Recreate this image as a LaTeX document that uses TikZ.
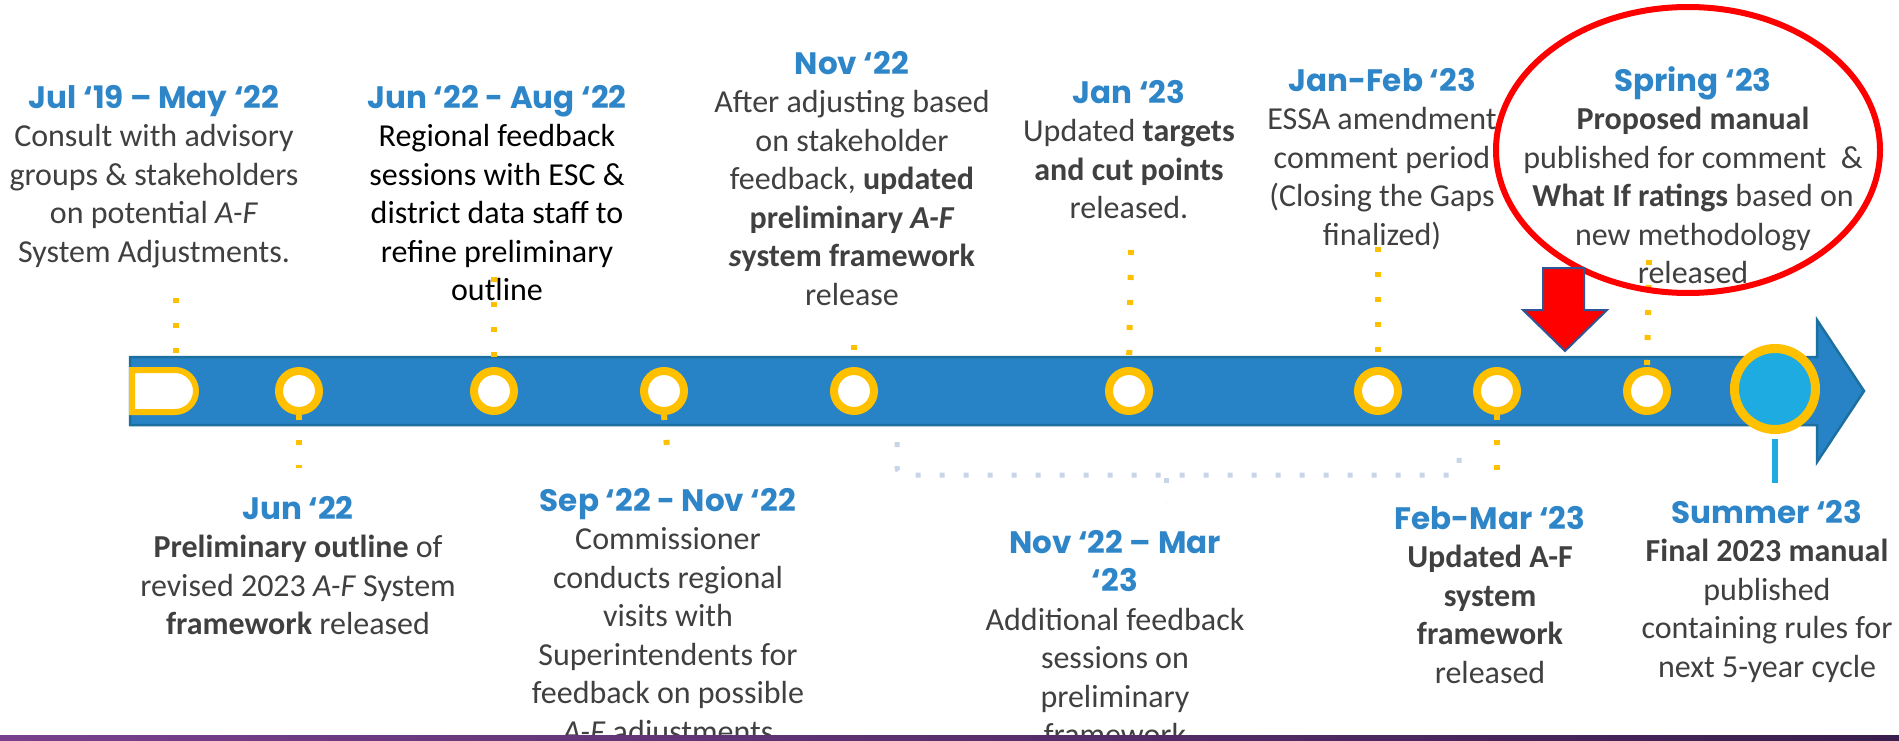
\documentclass[tikz,border=0pt]{standalone}
\usepackage{fontspec}
\setmainfont{Carlito}
\newfontfamily\headfont{Poppins}
\usetikzlibrary{calc}
\definecolor{barblue}{RGB}{40,130,198}
\definecolor{baredge}{RGB}{28,112,160}
\definecolor{ringyel}{RGB}{255,192,0}
\definecolor{bigfill}{RGB}{29,171,226}
\definecolor{headblue}{RGB}{46,134,200}
\definecolor{bodygrey}{RGB}{64,64,64}
\definecolor{brk}{RGB}{200,212,232}
\definecolor{arrowedge}{RGB}{47,85,151}
\definecolor{purpL}{RGB}{120,64,140}
\definecolor{purpR}{RGB}{58,30,78}
\newcommand\tlhead[1]{{\headfont\bfseries\fontsize{31}{38.5}\selectfont\color{headblue}\rule{0pt}{25pt}#1}}
\begin{document}
\begin{tikzpicture}[x=1pt,y=-1pt,
  ring/.style={circle,draw=ringyel,line width=8pt,fill=white,minimum size=40pt,inner sep=0pt},
  bigring/.style={circle,draw=ringyel,line width=9pt,fill=bigfill,minimum size=81pt,inner sep=0pt},
  tick/.style={draw=ringyel,line width=6pt,dash pattern=on 5pt off 20pt},
  brace/.style={draw=brk,line width=5pt,dash pattern=on 5pt off 19pt},
  stem/.style={draw=bigfill,line width=6pt},
  blk/.style={anchor=north,align=center,inner sep=0pt,text=bodygrey,font=\fontsize{32}{38.5}\selectfont},
]
\useasboundingbox (0,0) rectangle (1899,741);
\fill[white] (0,0) rectangle (1899,741);

% main bar with arrow head
\path[fill=barblue,draw=baredge,line width=2.5pt] (130,357) -- (1817,357) -- (1817,320) -- (1864,391) -- (1817,462) -- (1817,425) -- (130,425) -- cycle;

% start marker
\draw[draw=ringyel,line width=6pt,fill=white] (132,370) -- (175,370) arc[start angle=-90,end angle=90,radius=21] -- (132,412) -- cycle;

% tick coordinates
\coordinate (t0a) at (176,298); \coordinate (t0b) at (176,357);
\coordinate (t2a) at (494,277);
\coordinate (t4a) at (854,345);
\coordinate (t5a) at (1131,250);
\coordinate (t6a) at (1378,247);
\coordinate (t8a) at (1649,260);
\coordinate (t1b) at (299,468);
\coordinate (t3b) at (667,447);
\coordinate (t7b) at (1497,470);

\draw[tick] (t0a) -- (t0b);

% circles
\node[ring] (c1) at (299,391) {};
\node[ring] (c2) at (494,391) {};
\node[ring] (c3) at (664,391) {};
\node[ring] (c4) at (854,391) {};
\node[ring] (c5) at (1129,391) {};
\node[ring] (c6) at (1378,391) {};
\node[ring] (c7) at (1497,391) {};
\node[ring] (c8) at (1647,391) {};

\draw[tick] (t2a) -- (c2.north);
\draw[tick] (t4a) -- (c4.north);
\draw[tick] (t5a) -- (c5.north);
\draw[tick] (t6a) -- (c6.north);
\draw[tick] (t8a) -- (c8.north);
\draw[tick] (c1.south) -- (t1b);
\draw[tick] (c3.south) -- (t3b);
\draw[tick] (c7.south) -- (t7b);

% big end circle with stem
\node[bigring] (cb) at (1775,389) {};
\coordinate (stemend) at (1775,483);
\draw[stem] ($(cb.south)+(0,4.5)$) -- (stemend);

% grey bracket
\coordinate (bl) at (897,442); \coordinate (br) at (1459,442);
\coordinate (bm) at (1166,478); \coordinate (bmend) at (1166,502);
\draw[brace,rounded corners=8pt] (bl) -- (897,475) -- (1459,475) -- (br);
\draw[brace] (bm) -- (bmend);

% texts above
\node[blk] (tA) at (154,83) {\tlhead{Jul ‘19 – May ‘22}\\Consult with advisory\\groups \& stakeholders\\on potential \textit{A-F}\\System Adjustments.};
\node[blk,text=black] (tB) at (497,83) {\tlhead{Jun ‘22 - Aug ‘22}\\Regional feedback\\sessions with ESC \&\\district data staff to\\refine preliminary\\outline};
\node[blk] (tC) at (852,49) {\tlhead{Nov ‘22}\\After adjusting based\\on stakeholder\\feedback, \textbf{updated}\\\textbf{preliminary \textit{A-F}}\\\textbf{\textit{s}ystem framework}\\release};
\node[blk] (tD) at (1129,78) {\tlhead{Jan ‘23}\\Updated \textbf{targets}\\\textbf{and cut points}\\released.};
\node[blk] (tE) at (1382,66) {\tlhead{Jan-Feb ‘23}\\ESSA amendment\\comment period\\(Closing the Gaps\\finalized)};
\node[blk] (tF) at (1693,66) {\tlhead{Spring ‘23}\\\textbf{Proposed manual}\\published for comment\ \ \&\\\textbf{What If ratings} based on\\new methodology\\released};

% texts below
\node[blk] (tG) at (298,494) {\tlhead{Jun ‘22}\\\textbf{Preliminary outline} of\\revised 2023 \textit{A-F} System\\\textbf{framework} released};
\node[blk] (tH) at (668,486) {\tlhead{Sep ‘22 - Nov ‘22}\\Commissioner\\conducts regional\\visits with\\Superintendents for\\feedback on possible\\\textit{A-F} adjustments};
\node[blk] (tI) at (1115,528) {\tlhead{Nov ‘22 – Mar}\\\tlhead{‘23}\\Additional feedback\\sessions on\\preliminary\\framework};
\node[blk] (tJ) at (1490,504) {\tlhead{Feb-Mar ‘23}\\\textbf{Updated A-F}\\\textbf{system}\\\textbf{framework}\\released};
\node[blk] (tK) at (1767,498) {\tlhead{Summer ‘23}\\\textbf{Final 2023 manual}\\published\\containing rules for\\next 5-year cycle};

% highlight ellipse and red arrow
\draw[red,line width=6pt] (1688,150) ellipse[x radius=192,y radius=143];
\draw[fill=red,draw=arrowedge,line width=2pt] (1543,268) -- (1584,268) -- (1584,310) -- (1607,310) -- (1565,351) -- (1523,310) -- (1543,310) -- cycle;

% bottom purple band
\shade[left color=purpL,right color=purpR] (0,735) rectangle (1899,741);
\end{tikzpicture}
\end{document}
